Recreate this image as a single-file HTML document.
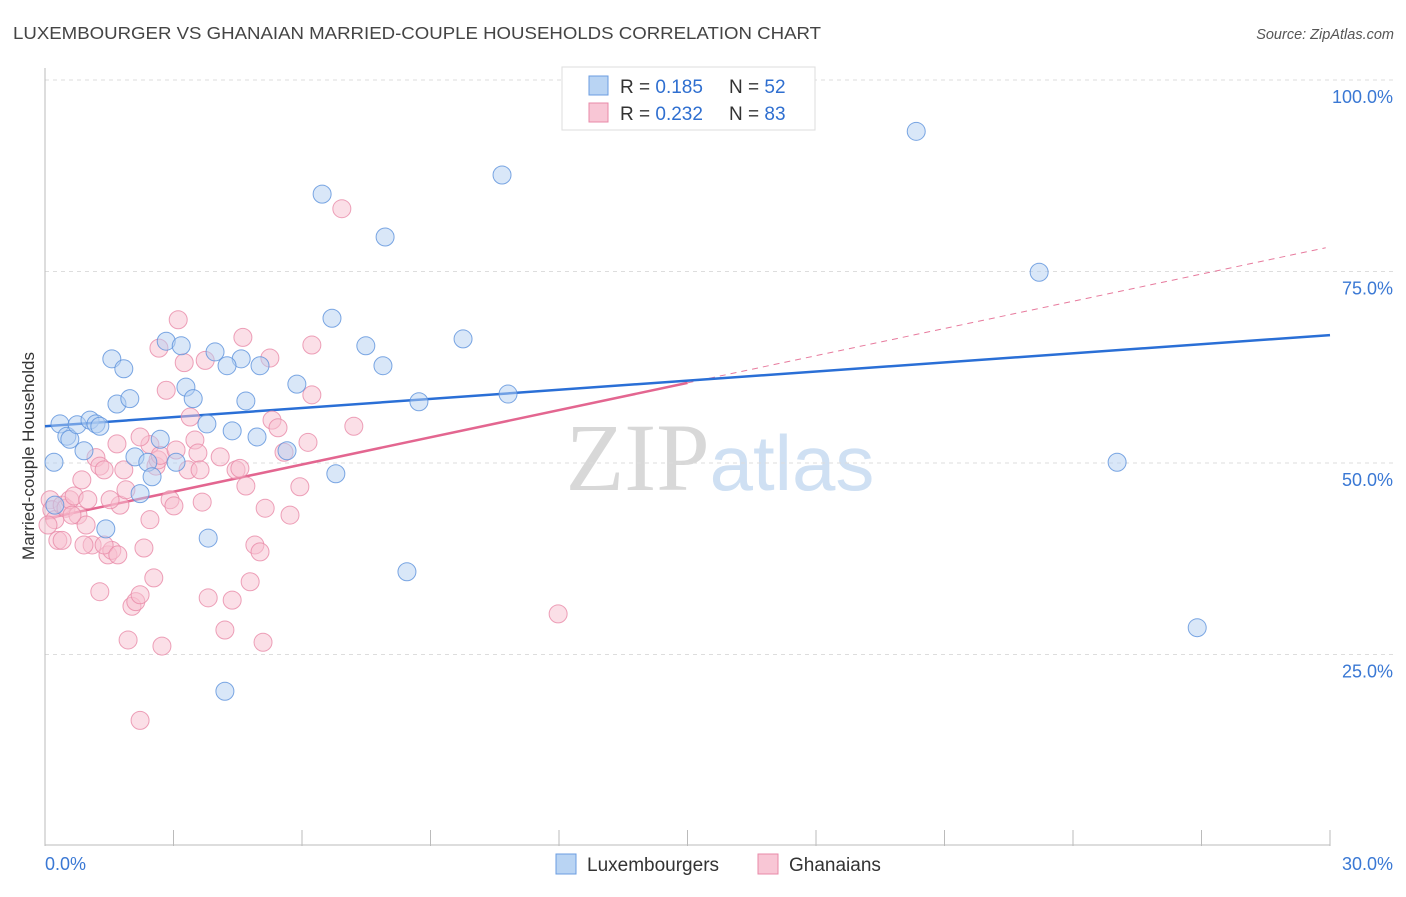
<!DOCTYPE html>
<html><head><meta charset="utf-8"><style>
body{margin:0;background:#fff;font-family:"Liberation Sans",sans-serif}
svg text{font-family:"Liberation Sans",sans-serif}
</style></head><body>
<svg id="chart" width="1406" height="892" xmlns="http://www.w3.org/2000/svg">
<text x="13" y="39" font-size="17.5" fill="#444" textLength="808" lengthAdjust="spacingAndGlyphs">LUXEMBOURGER VS GHANAIAN MARRIED-COUPLE HOUSEHOLDS CORRELATION CHART</text>
<text x="1394" y="39" font-size="14.5" fill="#555" text-anchor="end" font-style="italic">Source: ZipAtlas.com</text>
<text x="720" y="490" font-size="96" text-anchor="middle" fill="#ddd"><tspan font-family="Liberation Serif" fill="#d8d8d8">ZIP</tspan><tspan fill="#cfe0f3" font-size="78">atlas</tspan></text>
<g id="grid"></g>
<g id="axes"></g>
<text transform="translate(34,456) rotate(-90)" font-size="17" fill="#333" text-anchor="middle">Married-couple Households</text>
<g id="lines"></g>
<g id="pts"></g>
<g>
<rect x="562" y="67" width="253" height="63" fill="#fff" stroke="#ddd"/>
<rect x="589" y="76" width="19" height="19" fill="#b9d4f3" stroke="#6b9de0"/>
<rect x="589" y="103" width="19" height="19" fill="#f8c6d5" stroke="#e88aa8"/>
<text x="620" y="93" font-size="19" fill="#333">R = <tspan fill="#2f6fd0">0.185</tspan><tspan x="729">N = </tspan><tspan fill="#2f6fd0">52</tspan></text>
<text x="620" y="120" font-size="19" fill="#333">R = <tspan fill="#2f6fd0">0.232</tspan><tspan x="729">N = </tspan><tspan fill="#2f6fd0">83</tspan></text>
</g>
<g>
<rect x="556" y="854" width="20" height="20" fill="#b9d4f3" stroke="#6b9de0"/>
<text x="587" y="871" font-size="19" fill="#333">Luxembourgers</text>
<rect x="758" y="854" width="20" height="20" fill="#f8c6d5" stroke="#e88aa8"/>
<text x="789" y="871" font-size="19" fill="#333">Ghanaians</text>
</g>
</svg>
<script>
const yTicks=[25,50,75,100];
const yTickLabels=["25.0%","50.0%","75.0%","100.0%"];
const xTickLabels=["0.0%","30.0%"];
const luxX=[.35,.51,.58,.75,1.05,1.19,1.28,.91,.21,1.56,1.84,1.68,1.98,2.83,3.18,3.29,3.46,3.97,4.58,5.02,4.25,3.78,4.37,4.69,4.95,5.88,5.65,2.69,2.10,2.40,2.50,3.06,2.22,1.42,3.81,4.20,6.47,6.70,7.49,7.89,7.94,6.79,8.45,8.73,9.76,10.67,10.81,20.34,23.21,25.03,26.90,.23];
const luxY=[55.1,53.5,53.1,55.0,55.6,55.1,54.8,51.6,50.1,63.6,62.3,57.7,58.4,65.9,65.3,59.9,58.4,64.5,63.6,62.7,62.7,55.1,54.2,58.1,53.4,60.3,51.6,53.1,50.8,50.1,48.2,50.1,46.0,41.4,40.2,20.2,85.1,68.9,65.3,62.7,79.5,48.6,35.8,58.0,66.2,87.6,59.0,93.3,74.9,50.1,28.5,44.5];
const ghaX=[.12,.16,.23,.30,.40,.49,.58,.68,.77,.86,.96,1.00,1.10,1.19,1.28,1.38,1.47,1.56,1.68,1.75,1.84,1.89,1.94,2.03,2.12,2.22,2.22,2.31,2.45,2.54,2.59,2.64,2.73,2.66,2.83,2.92,3.01,3.11,3.25,3.34,3.39,3.50,3.57,3.67,3.74,3.81,4.09,4.20,4.37,4.46,4.55,4.62,4.69,4.79,4.90,5.02,5.09,5.14,5.25,5.30,5.44,5.58,5.72,5.95,6.14,6.23,6.23,6.93,7.21,11.98,.91,1.28,1.38,1.70,2.22,2.69,3.06,3.62,2.45,1.52,.40,.63,.07];
const ghaY=[45.2,43.9,42.6,39.9,44.5,44.1,45.2,45.7,43.2,47.8,41.9,45.2,39.3,50.7,49.6,49.1,38.0,38.6,52.5,44.5,49.1,46.5,26.9,31.3,31.9,32.8,16.4,38.9,52.4,35.0,49.6,50.4,26.1,65.0,59.5,45.2,44.4,68.7,63.1,49.1,56.0,53.0,51.3,44.9,63.4,32.4,50.8,28.2,32.1,49.1,49.3,66.4,47.0,34.5,39.3,38.4,26.6,44.1,63.7,55.6,54.6,51.4,43.2,46.9,52.7,65.4,58.9,83.2,54.8,30.3,39.3,33.2,39.3,38.0,53.4,51.0,51.7,49.1,42.6,45.2,39.9,43.2,41.9];
const luxFit=[54.8,66.7];
const ghaFit=[42.7,78.1];
const ghaSolidEnd=15;
const X=v=>45+v/30*1285, Y=v=>80+(100-v)*7.66;
const NS="http://www.w3.org/2000/svg";
function mk(p,t,a){const e=document.createElementNS(NS,t);for(const k in a)e.setAttribute(k,a[k]);document.getElementById(p).appendChild(e);return e;}
yTicks.forEach((t,i)=>{
 const g=mk('grid','line',{x1:45,x2:1394,y1:Y(t),y2:Y(t),stroke:'#ddd','stroke-dasharray':'4,4'});
 
 
 const l=mk('axes','text',{x:1393,y:Y(t)+23,'font-size':18,fill:'#3a78d4','text-anchor':'end'});l.textContent=yTickLabels[i];
 
 
});
const ax=mk('axes','line',{x1:45,x2:45,y1:68,y2:846,stroke:'#bbb'});


const bx=mk('axes','line',{x1:45,x2:1330,y1:845,y2:845,stroke:'#bbb'});


for(let i=0;i<=10;i++){const t=mk('axes','line',{x1:X(i*3),x2:X(i*3),y1:830,y2:846,stroke:'#bbb'});
 
 }
[[0,'start',45],[30,'end',1393]].forEach((d,i)=>{const l=mk('axes','text',{x:d[2],y:870,'font-size':18,fill:'#3a78d4','text-anchor':d[1]});l.textContent=xTickLabels[i];
 
 });
function pts(xs,ys,fill,stroke,name){xs.forEach((x,i)=>{const c=mk('pts','circle',{cx:X(x),cy:Y(ys[i]),r:9,fill:fill,'fill-opacity':0.5,stroke:stroke,'stroke-opacity':0.8,'stroke-width':1});
 
 });}
pts(ghaX,ghaY,'#f8bfd0','#e88aa8','ghanaian-point');
pts(luxX,luxY,'#b3cff2','#5b91dc','luxembourger-point');
const gf=x=>ghaFit[0]+(ghaFit[1]-ghaFit[0])*x/29.9;
const l1=mk('lines','line',{x1:X(ghaSolidEnd),y1:Y(gf(ghaSolidEnd)),x2:X(29.9),y2:Y(gf(29.9)),stroke:'#e77a9d','stroke-width':1,'stroke-dasharray':'6,5'});


const l2=mk('lines','line',{x1:X(0),y1:Y(gf(0)),x2:X(ghaSolidEnd),y2:Y(gf(ghaSolidEnd)),stroke:'#e36690','stroke-width':2.5});


const l3=mk('lines','line',{x1:X(0),y1:Y(luxFit[0]),x2:X(30),y2:Y(luxFit[1]),stroke:'#2a6fd6','stroke-width':2.5});


</script>
</body></html>
